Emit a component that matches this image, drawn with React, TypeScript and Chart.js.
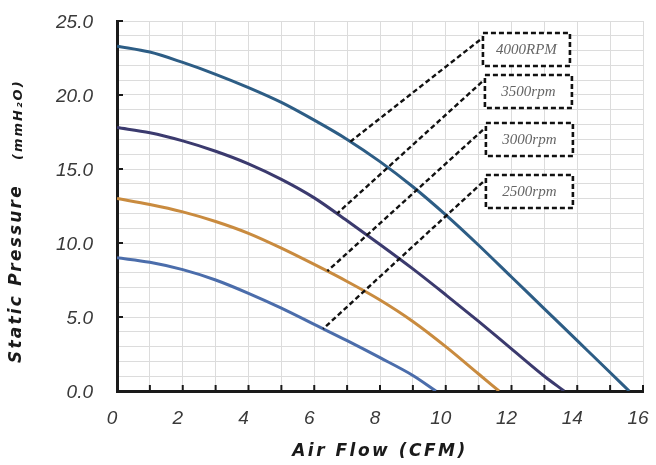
import React, { useEffect, useRef } from 'react';
import { Chart, registerables } from 'chart.js';

Chart.register(...registerables);

// ---- data ----
const airflow4000 = [0, 1, 2, 3, 4, 5, 6, 7, 8, 9, 10, 11, 12, 13, 14, 15, 15.58];
const pressure4000 = [23.3, 22.9, 22.2, 21.4, 20.5, 19.5, 18.3, 17.0, 15.5, 13.8, 11.9, 9.85, 7.7, 5.55, 3.4, 1.25, 0];

const airflow3500 = [0, 1, 2, 3, 4, 5, 6, 7, 8, 9, 10, 11, 12, 13, 13.6];
const pressure3500 = [17.8, 17.45, 16.9, 16.2, 15.35, 14.3, 13.05, 11.5, 9.9, 8.25, 6.5, 4.7, 2.85, 1.0, 0];

const airflow3000 = [0, 1, 2, 3, 4, 5, 6, 7, 8, 9, 10, 11, 11.62];
const pressure3000 = [13.0, 12.6, 12.1, 11.45, 10.65, 9.65, 8.55, 7.4, 6.15, 4.7, 3.0, 1.15, 0];

const airflow2500 = [0, 1, 2, 3, 4, 5, 6, 7, 8, 9, 9.7];
const pressure2500 = [9.0, 8.7, 8.2, 7.5, 6.6, 5.6, 4.5, 3.4, 2.25, 1.05, 0];

const speedLabels = ['4000RPM', '3500rpm', '3000rpm', '2500rpm'];
// leader lines: start (at label box) and end (on curve), in data units
const leaderStartX = [11.04, 11.1, 11.13, 11.13];
const leaderStartY = [23.72, 20.88, 17.64, 14.12];
const leaderEndX = [7.1, 6.7, 6.4, 6.27];
const leaderEndY = [16.85, 12.0, 8.1, 4.2];

const xTickLabels = ['0', '2', '4', '6', '8', '10', '12', '14', '16'];
const yTickLabels = ['0.0', '5.0', '10.0', '15.0', '20.0', '25.0'];

const xTitle = 'Air Flow (CFM)';
const yTitleMain = 'Static Pressure';
const yTitleUnit = '(mmH\u2082O)';

const curveColors = ['#2d5d85', '#3b3a6e', '#c98b3f', '#4b6dab'];

const toPts = (xs: number[], ys: number[]) => xs.map((x, i) => ({ x, y: ys[i] }));

export default function App() {
  const ref = useRef<HTMLCanvasElement | null>(null);

  useEffect(() => {
    document.body.style.margin = '0';
    const canvas = ref.current;
    if (!canvas) return;

    const series = [
      toPts(airflow4000, pressure4000),
      toPts(airflow3500, pressure3500),
      toPts(airflow3000, pressure3000),
      toPts(airflow2500, pressure2500),
    ];

    const curveSets = series.map((d, i) => ({
      label: speedLabels[i],
      data: d,
      borderColor: curveColors[i],
      backgroundColor: curveColors[i],
      borderWidth: 3,
      pointRadius: 0,
      cubicInterpolationMode: 'monotone' as const,
      fill: false,
      order: 2,
    }));

    const leaderSets = speedLabels.map((l, i) => ({
      label: l + ' leader',
      data: [
        { x: leaderStartX[i], y: leaderStartY[i] },
        { x: leaderEndX[i], y: leaderEndY[i] },
      ],
      borderColor: '#111111',
      borderWidth: 2.4,
      borderDash: [5, 3],
      pointRadius: 0,
      tension: 0,
      fill: false,
      order: 1,
    }));

    const decor = {
      id: 'decor',
      afterDraw(chart: any) {
        const ctx = chart.ctx as CanvasRenderingContext2D;
        const xs = chart.scales.x;
        const ys = chart.scales.y;
        const area = chart.chartArea;
        ctx.save();
        // inside tick marks
        ctx.strokeStyle = '#1a1a1a';
        ctx.lineWidth = 2;
        for (let v = 1; v <= 16; v++) {
          const px = xs.getPixelForValue(v);
          ctx.beginPath();
          ctx.moveTo(px, area.bottom);
          ctx.lineTo(px, area.bottom - 6);
          ctx.stroke();
        }
        for (let v = 5; v <= 25; v += 5) {
          const py = ys.getPixelForValue(v);
          ctx.beginPath();
          ctx.moveTo(area.left, py);
          ctx.lineTo(area.left + 6, py);
          ctx.stroke();
        }
        // label boxes
        for (let i = 0; i < speedLabels.length; i++) {
          const px = xs.getPixelForValue(leaderStartX[i]);
          const py = ys.getPixelForValue(leaderStartY[i]);
          const bx = px + 3;
          const by = py - 7;
          const bw = 87;
          const bh = 33;
          ctx.setLineDash([5, 3]);
          ctx.lineWidth = 2.6;
          ctx.strokeStyle = '#111111';
          ctx.fillStyle = '#ffffff';
          ctx.fillRect(bx, by, bw, bh);
          ctx.strokeRect(bx, by, bw, bh);
          ctx.setLineDash([]);
          ctx.fillStyle = '#666666';
          ctx.font = 'italic 15px "Liberation Serif"';
          ctx.textAlign = 'center';
          ctx.textBaseline = 'middle';
          ctx.fillText(speedLabels[i], bx + bw / 2, by + bh / 2 + 1);
        }
        // x title
        ctx.fillStyle = '#1a1a1a';
        ctx.font = 'italic bold 17px "DejaVu Sans"';
        (ctx as any).letterSpacing = '2.5px';
        ctx.textAlign = 'center';
        ctx.textBaseline = 'middle';
        ctx.fillText(xTitle, (area.left + area.right) / 2, 452);
        // y title
        ctx.translate(17, 363);
        ctx.rotate(-Math.PI / 2);
        ctx.textAlign = 'left';
        ctx.font = 'italic bold 17px "DejaVu Sans"';
        (ctx as any).letterSpacing = '2.2px';
        ctx.fillText(yTitleMain, 0, 0);
        ctx.font = 'italic bold 13px "DejaVu Sans"';
        (ctx as any).letterSpacing = '2px';
        ctx.fillText(yTitleUnit, 203, 2);
        ctx.restore();
      },
    };

    const chart = new Chart(canvas, {
      type: 'line',
      data: { datasets: [...curveSets, ...leaderSets] as any },
      options: {
        animation: false,
        responsive: false,
        maintainAspectRatio: false,
        layout: { padding: { left: 0, right: 13, top: 21, bottom: 0 } },
        plugins: { legend: { display: false }, tooltip: { enabled: false } },
        scales: {
          x: {
            type: 'linear',
            min: 0,
            max: 16,
            afterFit: (s: any) => {
              s.height = 74;
              s.paddingLeft = 0;
              s.paddingRight = 0;
            },
            ticks: {
              stepSize: 1,
              autoSkip: false,
              maxRotation: 0,
              padding: 16,
              labelOffset: -5,
              color: '#3a3a3a',
              font: { family: '"Liberation Sans"', style: 'italic', size: 19 },
              callback: (v: any) => (Number(v) % 2 === 0 ? xTickLabels[Number(v) / 2] : ''),
            },
            grid: { color: '#dcdcdc', lineWidth: 1, drawTicks: false },
            border: { display: true, color: '#1a1a1a', width: 3 },
          },
          y: {
            type: 'linear',
            min: 0,
            max: 25,
            afterFit: (s: any) => {
              s.width = 117;
              s.paddingTop = 0;
              s.paddingBottom = 0;
            },
            ticks: {
              stepSize: 1,
              autoSkip: false,
              padding: 24,
              labelOffset: 2,
              color: '#3a3a3a',
              font: { family: '"Liberation Sans"', style: 'italic', size: 19 },
              callback: (v: any) => (Number(v) % 5 === 0 ? yTickLabels[Number(v) / 5] : ''),
            },
            grid: { color: '#dcdcdc', lineWidth: 1, drawTicks: false },
            border: { display: true, color: '#1a1a1a', width: 3 },
          },
        },
      },
      plugins: [decor],
    });

    return () => chart.destroy();
  }, []);

  return (
    <canvas
      ref={ref}
      width={656}
      height={465}
      style={{ display: 'block', width: '656px', height: '465px' }}
    />
  );
}
